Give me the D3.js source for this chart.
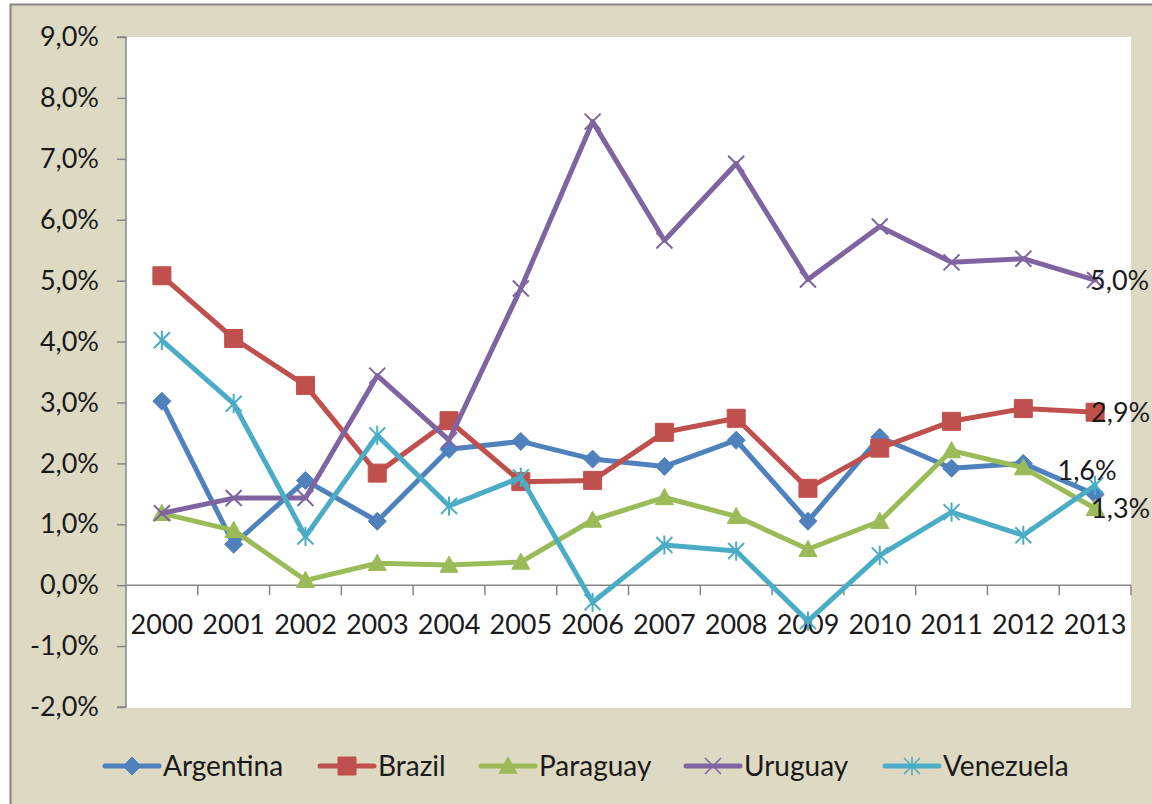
<!DOCTYPE html>
<html>
<head>
<meta charset="utf-8">
<script src="https://cdn.jsdelivr.net/npm/d3@7"></script>
<style>
  html, body { margin: 0; padding: 0; background: #ffffff; }
  svg { display: block; }
  text { font-family: Lato, "Open Sans", sans-serif; fill: #1a1a1a; }
</style>
</head>
<body>
<svg id="chart" width="1152" height="804"></svg>
<script>
const years = ["2000","2001","2002","2003","2004","2005","2006","2007","2008","2009","2010","2011","2012","2013"];
const yTicks = [-2,-1,0,1,2,3,4,5,6,7,8,9];
const seriesNames = ["Argentina","Brazil","Paraguay","Uruguay","Venezuela"];
const seriesColors = ["#4F81BD","#C0504D","#9BBB59","#8064A2","#4BACC6"];
const argentina = [3.02,0.67,1.72,1.05,2.23,2.36,2.07,1.95,2.38,1.05,2.43,1.92,2.00,1.49];
const brazil    = [5.08,4.05,3.28,1.84,2.70,1.70,1.72,2.51,2.74,1.59,2.25,2.69,2.90,2.84];
const paraguay  = [1.18,0.90,0.08,0.36,0.33,0.38,1.07,1.44,1.13,0.59,1.05,2.21,1.93,1.26];
const uruguay   = [1.18,1.43,1.43,3.44,2.38,4.87,7.61,5.66,6.92,5.02,5.89,5.30,5.36,5.01];
const venezuela = [4.02,2.98,0.80,2.46,1.30,1.77,-0.28,0.66,0.56,-0.59,0.49,1.20,0.82,1.64];
const labelTexts = {Uruguay:"5,0%", Brazil:"2,9%", Venezuela:"1,6%", Paraguay:"1,3%"};

const seriesValues = [argentina, brazil, paraguay, uruguay, venezuela];

// custom Excel-like marker shapes; size = half-width
const mDiamond = {draw(c, r){ c.moveTo(0,-r); c.lineTo(r,0); c.lineTo(0,r); c.lineTo(-r,0); c.closePath(); }};
const mSquare  = {draw(c, r){ c.rect(-r,-r,2*r,2*r); }};
const mTriangle= {draw(c, r){ c.moveTo(0,-r); c.lineTo(r,r*0.8); c.lineTo(-r,r*0.8); c.closePath(); }};
const mX       = {draw(c, r){ c.moveTo(-r,-r); c.lineTo(r,r); c.moveTo(-r,r); c.lineTo(r,-r); }};
const mStar    = {draw(c, r){ c.moveTo(-r,-r); c.lineTo(r,r); c.moveTo(-r,r); c.lineTo(r,-r); c.moveTo(0,-r*1.2); c.lineTo(0,r*1.2); }};
const markerTypes = [mDiamond, mSquare, mTriangle, mX, mStar];
const markerSizes = [9, 9, 9, 8, 8];
const markerFilled = [true, true, true, false, false];

const svg = d3.select("#chart");

// chart background frame
svg.append("rect").attr("x",10.5).attr("y",4.5).attr("width",1160).attr("height",820)
  .attr("fill","#DDD9C3").attr("stroke","#858585").attr("stroke-width",2);

const plot = {left:126, right:1131, top:37, bottom:708};
svg.append("rect").attr("x",plot.left).attr("y",plot.top)
  .attr("width",plot.right-plot.left).attr("height",plot.bottom-plot.top).attr("fill","#ffffff");

const x = d3.scaleBand().domain(years).range([plot.left, plot.right]).padding(0);
const y = d3.scaleLinear().domain([-2, 9]).range([707, 37]);

// y axis
const yAxis = d3.axisLeft(y).tickValues(yTicks).tickSize(9).tickPadding(18)
  .tickFormat(d => (d < 0 ? "-" : "") + d3.format(".1f")(Math.abs(d)).replace(".", ",") + "%");
const gy = svg.append("g").attr("transform",`translate(${plot.left},0)`).call(yAxis);
gy.select(".domain").attr("stroke","#868686").attr("stroke-width",1.5).attr("d",`M-9,${y(9)}H0V${y(-2)}H-9`);
gy.selectAll(".tick line").attr("stroke","#868686").attr("stroke-width",1.5);
gy.selectAll(".tick text").attr("font-size",27).attr("fill","#1a1a1a").attr("font-family","Lato");

// x axis at 0
const xAxis = d3.axisBottom(x).tickSize(0).tickPadding(30);
const gx = svg.append("g").attr("transform",`translate(0,${y(0)})`).call(xAxis);
gx.select(".domain").attr("stroke","#868686").attr("stroke-width",1.5).attr("d",`M${plot.left},0H${plot.right}`);
gx.selectAll(".tick text").attr("font-size",27).attr("fill","#1a1a1a").attr("font-family","Lato");
// tick marks between categories
const boundaries = years.map(yr => x(yr)).concat([x(years[years.length-1]) + x.bandwidth()]).slice(1);
gx.selectAll(".bnd").data(boundaries).enter().append("line")
  .attr("x1", d=>d).attr("x2", d=>d).attr("y1",0).attr("y2",10)
  .attr("stroke","#868686").attr("stroke-width",1.5);

const cx = d => x(d) + x.bandwidth()/2;

const line = d3.line().x((d,i)=>cx(years[i])).y(d=>y(d));

seriesValues.forEach((vals, si) => {
  const color = seriesColors[si];
  const g = svg.append("g");
  g.append("path").datum(vals).attr("d", line).attr("fill","none")
    .attr("stroke", color).attr("stroke-width",5).attr("stroke-linejoin","round").attr("stroke-linecap","round");
  const sym = d3.symbol().type(markerTypes[si]).size(markerSizes[si]);
  g.selectAll("path.m").data(vals).enter().append("path").attr("class","m")
    .attr("d", sym)
    .attr("transform",(d,i)=>`translate(${cx(years[i])},${y(d)})`)
    .attr("fill", markerFilled[si] ? color : "none")
    .attr("stroke", color).attr("stroke-width", markerFilled[si] ? 1 : 2);
});

// end data labels
const lastYear = years[years.length-1];
const labelSpecs = [
  {name:"Uruguay", vals:uruguay, dx:-5, dy:0, anchor:"start"},
  {name:"Brazil", vals:brazil, dx:-4, dy:0, anchor:"start"},
  {name:"Venezuela", vals:venezuela, dx:-8, dy:-15, anchor:"middle"},
  {name:"Paraguay", vals:paraguay, dx:-4, dy:0, anchor:"start"}
];
labelSpecs.forEach(s => {
  svg.append("text")
    .attr("x", cx(lastYear) + s.dx)
    .attr("y", y(s.vals[s.vals.length-1]) + s.dy)
    .attr("dy","0.36em")
    .attr("text-anchor", s.anchor)
    .attr("font-size",27)
    .text(labelTexts[s.name]);
});

// legend
const legendX = [105, 320, 481, 686, 885];
const legendY = 766;
const lg = svg.append("g");
seriesNames.forEach((nm, si) => {
  const color = seriesColors[si];
  const g = lg.append("g").attr("transform",`translate(${legendX[si]},${legendY})`);
  g.append("line").attr("x1",0).attr("x2",54).attr("y1",0).attr("y2",0)
    .attr("stroke",color).attr("stroke-width",5).attr("stroke-linecap","round");
  g.append("path").attr("d", d3.symbol().type(markerTypes[si]).size(markerSizes[si]))
    .attr("transform","translate(27,0)")
    .attr("fill", markerFilled[si] ? color : "none")
    .attr("stroke", color).attr("stroke-width", markerFilled[si] ? 1 : 1.5);
  g.append("text").attr("x",58).attr("y",0).attr("dy","0.36em").attr("font-size",28).text(nm);
});
</script>
</body>
</html>
